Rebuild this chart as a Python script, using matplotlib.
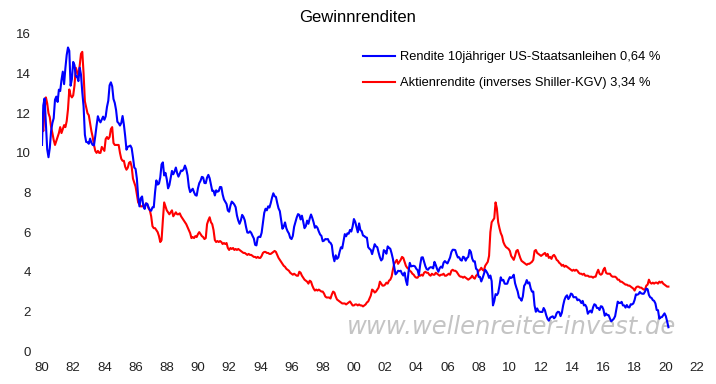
import numpy as np
import matplotlib
matplotlib.use("Agg")
import matplotlib.pyplot as plt

plt.rcParams["font.family"] = ["Liberation Sans", "DejaVu Sans"]

# Rendite 10jähriger US-Staatsanleihen, monthly from Jan 1980
bond_yield = [
    10.4, 12.4, 12.75, 11.47, 10.18, 9.78, 10.25, 11.10, 11.51, 11.75, 12.68, 12.84,  # 1980
    12.57, 13.19, 13.12, 13.68, 14.10, 13.47, 14.28, 14.94, 15.32, 15.15, 13.39, 13.72,  # 1981
    14.59, 14.43, 13.86, 13.87, 13.62, 14.30, 13.95, 13.06, 12.34, 10.91, 10.55, 10.54,  # 1982
    10.46, 10.72, 10.51, 10.40, 10.38, 10.85, 11.38, 11.85, 11.65, 11.54, 11.69, 11.83,  # 1983
    11.67, 11.84, 12.32, 12.63, 13.41, 13.56, 13.36, 12.72, 12.52, 12.16, 11.57, 11.50,  # 1984
    11.38, 11.51, 11.86, 11.43, 10.85, 10.16, 10.31, 10.33, 10.37, 10.24, 9.78, 9.26,  # 1985
    9.19, 8.70, 7.78, 7.30, 7.71, 7.80, 7.30, 7.17, 7.45, 7.43, 7.25, 7.11,  # 1986
    7.08, 7.25, 7.25, 8.02, 8.61, 8.40, 8.45, 8.76, 9.42, 9.52, 8.86, 8.99,  # 1987
    8.67, 8.21, 8.37, 8.72, 9.09, 8.92, 9.06, 9.26, 8.98, 8.80, 8.96, 9.11,  # 1988
    9.09, 9.17, 9.36, 9.18, 8.86, 8.28, 8.02, 8.11, 8.19, 8.01, 7.87, 7.84,  # 1989
    8.21, 8.47, 8.59, 8.79, 8.76, 8.48, 8.47, 8.75, 8.89, 8.72, 8.39, 8.08,  # 1990
    8.09, 7.85, 8.11, 8.04, 8.07, 8.28, 8.27, 7.90, 7.65, 7.53, 7.42, 7.09,  # 1991
    7.03, 7.34, 7.54, 7.48, 7.39, 7.26, 6.84, 6.59, 6.42, 6.59, 6.87, 6.77,  # 1992
    6.60, 6.26, 5.98, 5.97, 6.04, 5.96, 5.81, 5.68, 5.36, 5.33, 5.72, 5.77,  # 1993
    5.75, 5.97, 6.48, 6.97, 7.18, 7.10, 7.30, 7.24, 7.46, 7.74, 7.96, 7.81,  # 1994
    7.78, 7.47, 7.20, 7.06, 6.63, 6.17, 6.28, 6.49, 6.20, 6.04, 5.93, 5.71,  # 1995
    5.65, 5.81, 6.27, 6.51, 6.74, 6.91, 6.87, 6.64, 6.83, 6.53, 6.20, 6.30,  # 1996
    6.58, 6.42, 6.69, 6.89, 6.71, 6.49, 6.22, 6.30, 6.21, 6.03, 5.88, 5.81,  # 1997
    5.54, 5.57, 5.65, 5.64, 5.65, 5.50, 5.46, 5.34, 4.81, 4.53, 4.83, 4.65,  # 1998
    4.72, 5.00, 5.23, 5.18, 5.54, 5.90, 5.79, 5.94, 5.92, 6.11, 6.03, 6.28,  # 1999
    6.66, 6.52, 6.26, 5.99, 6.44, 6.10, 6.05, 5.83, 5.80, 5.74, 5.72, 5.24,  # 2000
    5.16, 5.10, 4.89, 5.14, 5.39, 5.28, 5.24, 4.97, 4.73, 4.57, 4.65, 5.09,  # 2001
    5.04, 4.91, 5.28, 5.21, 5.16, 4.93, 4.65, 4.26, 3.87, 3.94, 4.05, 4.03,  # 2002
    4.05, 3.90, 3.81, 3.96, 3.57, 3.33, 3.98, 4.45, 4.27, 4.29, 4.30, 4.27,  # 2003
    4.15, 4.08, 3.83, 4.35, 4.72, 4.73, 4.50, 4.28, 4.13, 4.10, 4.19, 4.23,  # 2004
    4.22, 4.17, 4.50, 4.34, 4.14, 4.00, 4.18, 4.26, 4.20, 4.46, 4.54, 4.47,  # 2005
    4.42, 4.57, 4.72, 4.99, 5.11, 5.11, 5.09, 4.88, 4.72, 4.73, 4.60, 4.56,  # 2006
    4.76, 4.72, 4.56, 4.69, 4.75, 5.10, 5.00, 4.67, 4.52, 4.53, 4.15, 4.10,  # 2007
    3.74, 3.74, 3.51, 3.68, 3.88, 4.10, 4.01, 3.89, 3.69, 3.81, 3.53, 2.30,  # 2008
    2.52, 2.87, 2.82, 2.93, 3.29, 3.72, 3.56, 3.59, 3.40, 3.39, 3.40, 3.59,  # 2009
    3.73, 3.69, 3.73, 3.85, 3.42, 3.20, 3.01, 2.70, 2.65, 2.54, 2.76, 3.29,  # 2010
    3.39, 3.58, 3.41, 3.46, 3.17, 3.00, 3.00, 2.30, 1.98, 2.15, 2.01, 1.98,  # 2011
    1.97, 1.97, 2.17, 2.05, 1.80, 1.62, 1.53, 1.68, 1.72, 1.75, 1.65, 1.72,  # 2012
    1.91, 1.98, 1.96, 1.76, 1.93, 2.30, 2.58, 2.74, 2.81, 2.62, 2.72, 2.90,  # 2013
    2.86, 2.71, 2.72, 2.71, 2.56, 2.60, 2.54, 2.42, 2.53, 2.30, 2.33, 2.21,  # 2014
    1.88, 1.98, 2.04, 1.94, 2.20, 2.36, 2.32, 2.17, 2.17, 2.07, 2.26, 2.24,  # 2015
    2.09, 1.78, 1.89, 1.81, 1.81, 1.64, 1.50, 1.56, 1.63, 1.76, 2.14, 2.49,  # 2016
    2.43, 2.42, 2.48, 2.30, 2.30, 2.19, 2.32, 2.21, 2.20, 2.36, 2.35, 2.40,  # 2017
    2.58, 2.86, 2.84, 2.87, 2.98, 2.91, 2.89, 2.89, 3.00, 3.15, 3.12, 2.83,  # 2018
    2.71, 2.68, 2.57, 2.53, 2.40, 2.07, 2.06, 1.63, 1.70, 1.71, 1.81, 1.90,  # 2019
    1.76, 1.50, 1.20,  # 2020
]

# Aktienrendite (inverses Shiller-KGV), monthly from Jan 1980
earnings_yield = [
    11.5, 11.1, 12.2, 12.8, 12.5, 12.0, 11.8, 11.3, 11.0, 10.65, 10.4, 10.6,  # 1980
    10.8, 11.0, 11.3, 11.0, 11.2, 11.4, 11.3, 11.6, 12.2, 13.2, 12.9, 12.8,  # 1981
    12.9, 13.4, 14.3, 14.1, 13.9, 14.4, 15.0, 15.1, 14.0, 12.6, 12.3, 12.0,  # 1982
    11.9, 11.5, 11.1, 10.8, 10.4, 10.1, 10.0, 10.1, 10.0, 10.0, 10.3, 10.2,  # 1983
    10.1, 10.7, 10.8, 10.7, 10.8, 11.2, 11.3, 10.5, 10.4, 10.4, 10.4, 10.4,  # 1984
    10.0, 9.7, 9.6, 9.6, 9.3, 9.15, 9.25, 9.5, 9.55, 9.3, 8.7, 8.5,  # 1985
    8.3, 7.9, 7.5, 7.4, 7.3, 7.3, 7.35, 7.3, 7.45, 7.4, 7.2, 7.1,  # 1986
    6.8, 6.3, 6.2, 6.2, 6.1, 6.0, 5.8, 5.5, 5.6, 6.6, 7.5, 7.3,  # 1987
    7.1, 7.0, 6.9, 7.0, 7.1, 6.8, 6.9, 7.0, 6.9, 6.9, 6.95, 6.8,  # 1988
    6.7, 6.6, 6.5, 6.4, 6.25, 6.1, 5.95, 5.7, 5.75, 5.7, 5.8, 5.75,  # 1989
    5.9, 6.0, 5.9, 5.8, 5.75, 5.65, 5.7, 6.4, 6.6, 6.75, 6.5, 6.4,  # 1990
    6.1, 5.6, 5.5, 5.55, 5.5, 5.55, 5.5, 5.4, 5.45, 5.4, 5.45, 5.2,  # 1991
    5.1, 5.2, 5.15, 5.2, 5.1, 5.15, 5.1, 5.15, 5.1, 5.05, 5.0, 4.95,  # 1992
    4.95, 4.9, 4.85, 4.9, 4.85, 4.85, 4.8, 4.75, 4.75, 4.7, 4.75, 4.7,  # 1993
    4.7, 4.8, 4.95, 5.0, 5.0, 4.95, 4.95, 4.9, 4.9, 4.95, 5.0, 5.05,  # 1994
    5.0, 4.85, 4.7, 4.6, 4.5, 4.4, 4.3, 4.25, 4.15, 4.1, 4.05, 3.95,  # 1995
    3.9, 3.85, 3.9, 3.85, 3.8, 3.8, 4.0, 3.95, 3.8, 3.7, 3.6, 3.55,  # 1996
    3.5, 3.4, 3.55, 3.5, 3.3, 3.15, 3.05, 3.1, 3.05, 3.1, 3.05, 3.0,  # 1997
    3.0, 2.9, 2.75, 2.7, 2.7, 2.7, 2.65, 2.85, 3.0, 2.95, 2.75, 2.6,  # 1998
    2.55, 2.5, 2.45, 2.4, 2.4, 2.4, 2.35, 2.4, 2.45, 2.5, 2.4, 2.3,  # 1999
    2.3, 2.35, 2.35, 2.3, 2.35, 2.3, 2.3, 2.25, 2.3, 2.35, 2.45, 2.5,  # 2000
    2.65, 2.8, 3.1, 3.05, 2.95, 3.0, 3.1, 3.2, 3.5, 3.4, 3.3, 3.3,  # 2001
    3.35, 3.45, 3.4, 3.55, 3.6, 3.75, 4.1, 4.4, 4.5, 4.6, 4.4, 4.5,  # 2002
    4.6, 4.75, 4.7, 4.5, 4.3, 4.2, 4.15, 4.05, 4.0, 3.9, 3.85, 3.75,  # 2003
    3.7, 3.7, 3.8, 3.8, 3.85, 3.8, 3.95, 4.0, 3.95, 3.95, 3.85, 3.8,  # 2004
    3.9, 3.85, 3.85, 3.95, 3.9, 3.85, 3.8, 3.85, 3.85, 3.9, 3.8, 3.8,  # 2005
    3.85, 3.9, 3.85, 4.05, 4.1, 4.05, 4.05, 4.0, 3.9, 3.8, 3.75, 3.75,  # 2006
    3.7, 3.75, 3.7, 3.65, 3.6, 3.65, 3.7, 3.8, 3.7, 3.65, 3.8, 3.85,  # 2007
    4.05, 4.1, 4.2, 4.1, 4.05, 4.3, 4.4, 4.5, 4.8, 6.0, 6.5, 6.6,  # 2008
    6.7, 7.5, 7.2, 6.5, 6.2, 5.95, 5.8, 5.5, 5.35, 5.25, 5.2, 5.15,  # 2009
    5.05, 4.8, 4.7, 4.6, 4.8, 5.05, 5.1, 4.9, 4.7, 4.55, 4.5, 4.45,  # 2010
    4.4, 4.35, 4.4, 4.4, 4.45, 4.5, 4.6, 5.05, 5.1, 4.95, 4.9, 4.85,  # 2011
    4.8, 4.85, 4.9, 4.95, 4.8, 4.9, 4.7, 4.75, 4.65, 4.8, 4.85, 4.75,  # 2012
    4.6, 4.55, 4.45, 4.4, 4.3, 4.35, 4.25, 4.3, 4.25, 4.2, 4.15, 4.1,  # 2013
    4.05, 4.1, 4.05, 4.1, 4.05, 3.95, 3.9, 3.9, 3.85, 3.9, 3.8, 3.8,  # 2014
    3.8, 3.75, 3.75, 3.75, 3.7, 3.75, 3.75, 3.95, 4.1, 3.9, 3.85, 3.9,  # 2015
    4.1, 4.2, 3.95, 3.9, 3.9, 3.9, 3.8, 3.75, 3.75, 3.75, 3.7, 3.6,  # 2016
    3.6, 3.5, 3.5, 3.45, 3.4, 3.35, 3.35, 3.3, 3.3, 3.25, 3.2, 3.15,  # 2017
    3.05, 3.2, 3.25, 3.25, 3.2, 3.2, 3.15, 3.1, 3.1, 3.3, 3.35, 3.6,  # 2018
    3.45, 3.4, 3.45, 3.4, 3.45, 3.45, 3.4, 3.5, 3.45, 3.5, 3.4, 3.35,  # 2019
    3.3, 3.25, 3.25,  # 2020
]

labels = ["Rendite 10jähriger US-Staatsanleihen 0,64 %",
          "Aktienrendite (inverses Shiller-KGV) 3,34 %"]
x_years = list(range(1980, 2023, 2))
y_ticks = list(range(0, 17, 2))

t_bond = 1980 + np.arange(len(bond_yield)) / 12
t_earn = 1980 + np.arange(len(earnings_yield)) / 12

fig = plt.figure(figsize=(7.16, 3.84), dpi=100)
ax = fig.add_axes([42 / 716, 33 / 384, 655 / 716, 317 / 384])

ax.plot(t_bond, bond_yield, color="#0000ff", lw=1.5, label=labels[0], zorder=3)
ax.plot(t_earn, earnings_yield, color="#ff0000", lw=1.5, label=labels[1], zorder=2)

ax.set_xlim(1980, 2022)
ax.set_ylim(0, 16)
ax.set_xticks(x_years)
ax.set_xticklabels([f"{y % 100:02d}" for y in x_years])
ax.set_yticks(y_ticks)
ax.tick_params(length=0, labelsize=9.5, colors="#222222")
ax.tick_params(axis="y", pad=8)
ax.tick_params(axis="x", pad=8)
for s in ax.spines.values():
    s.set_visible(False)

fig.text(358 / 716, 1 - 18 / 384, "Gewinnrenditen", ha="center", va="center",
         fontsize=12, color="black")

ax.legend(loc="upper left", bbox_to_anchor=(363 / 716, 1 - 51 / 384),
          bbox_transform=fig.transFigure, frameon=False, fontsize=9.3,
          handlelength=2.5, handletextpad=0.35, borderpad=0,
          borderaxespad=0, labelspacing=1.1)

# watermark sits under the lines
ax.text(512 / 716, 1 - 327 / 384, "www.wellenreiter-invest.de",
        transform=fig.transFigure, ha="center", va="center", fontsize=17.5,
        style="italic", family="DejaVu Sans", color="#c4c4c4", zorder=1)

fig.savefig("out.png", dpi=100)
